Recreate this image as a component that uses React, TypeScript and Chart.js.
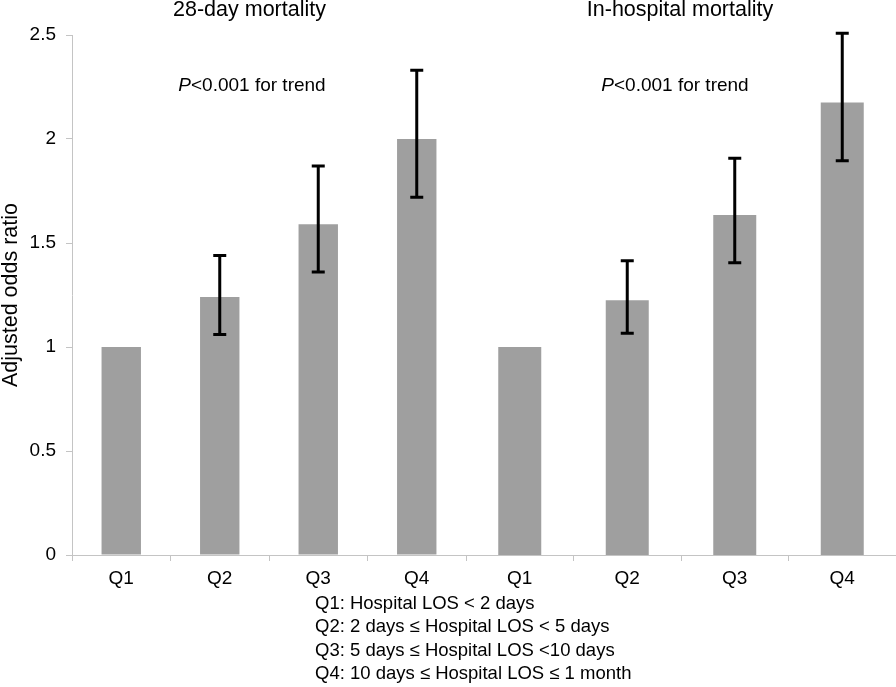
import React, { useEffect, useRef } from 'react';
import { Chart, registerables } from 'chart.js';

Chart.register(...registerables);

const FONT = '"Liberation Sans", Arial, sans-serif';

// ---- data ----
const categories = ['Q1', 'Q2', 'Q3', 'Q4'];
const mortality28Values = [1.0, 1.24, 1.59, 2.0];
const mortality28Low = [null, 1.06, 1.36, 1.72];
const mortality28High = [null, 1.44, 1.87, 2.33];
const inHospitalValues = [1.0, 1.225, 1.635, 2.175];
const inHospitalLow = [null, 1.066, 1.405, 1.896];
const inHospitalHigh = [null, 1.415, 1.907, 2.508];
const yMin = 0;
const yMax = 2.5;
const yStep = 0.5;
const yAxisTitle = 'Adjusted odds ratio';
const panelTitles = ['28-day mortality', 'In-hospital mortality'];
const trendItalic = 'P';
const trendRest = '<0.001 for trend';
const legendLines = [
  'Q1: Hospital LOS < 2 days',
  'Q2: 2 days ≤ Hospital LOS < 5 days',
  'Q3: 5 days ≤ Hospital LOS <10 days',
  'Q4: 10 days ≤ Hospital LOS ≤ 1 month',
];

const errorBarPlugin = {
  id: 'errorBars',
  afterDatasetsDraw(chart: any, _args: any, opts: any) {
    const meta = chart.getDatasetMeta(0);
    const yScale = chart.scales.y;
    const ctx = chart.ctx;
    ctx.save();
    ctx.strokeStyle = '#000';
    ctx.lineWidth = 3;
    ctx.lineCap = 'butt';
    meta.data.forEach((bar: any, i: number) => {
      const lo = opts.low[i];
      const hi = opts.high[i];
      if (lo == null || hi == null) return;
      const x = bar.x;
      const y1 = yScale.getPixelForValue(lo);
      const y2 = yScale.getPixelForValue(hi);
      const cap = 6.5;
      ctx.beginPath();
      ctx.moveTo(x, y1);
      ctx.lineTo(x, y2);
      ctx.moveTo(x - cap, y1);
      ctx.lineTo(x + cap, y1);
      ctx.moveTo(x - cap, y2);
      ctx.lineTo(x + cap, y2);
      ctx.stroke();
    });
    ctx.restore();
  },
};

const panelTextPlugin = {
  id: 'panelText',
  afterDraw(chart: any, _args: any, opts: any) {
    const ctx = chart.ctx;
    ctx.save();
    ctx.fillStyle = '#000';
    ctx.textBaseline = 'alphabetic';
    ctx.textAlign = 'center';
    ctx.font = `21.5px ${FONT}`;
    ctx.fillText(opts.title, opts.titleX, 16);
    // trend annotation, italic P
    ctx.textAlign = 'left';
    ctx.font = `italic 19px ${FONT}`;
    const wP = ctx.measureText(trendItalic).width;
    ctx.font = `19px ${FONT}`;
    const wR = ctx.measureText(trendRest).width;
    const start = opts.pX - (wP + wR) / 2;
    ctx.font = `italic 19px ${FONT}`;
    ctx.fillText(trendItalic, start, 91);
    ctx.font = `19px ${FONT}`;
    ctx.fillText(trendRest, start + wP, 91);
    ctx.restore();
  },
};

function makeConfig(values: number[], low: any[], high: any[], showY: boolean, title: string, titleX: number, pX: number): any {
  return {
    type: 'bar',
    data: {
      labels: categories,
      datasets: [
        {
          data: values,
          backgroundColor: '#9f9f9f',
          borderWidth: 0,
          barPercentage: 0.4,
          categoryPercentage: 1,
        },
      ],
    },
    options: {
      animation: false,
      responsive: false,
      devicePixelRatio: 1,
      layout: { padding: { top: 35, left: 0, right: 0, bottom: 0 } },
      plugins: {
        legend: { display: false },
        tooltip: { enabled: false },
        title: { display: false },
        errorBars: { low, high },
        panelText: { title, titleX, pX },
      },
      scales: {
        x: {
          grid: { offset: true, drawOnChartArea: false, tickLength: 6, color: '#c4c4c4' },
          border: { color: '#c4c4c4' },
          ticks: { color: '#000', font: { family: FONT, size: 19 }, padding: 6 },
          afterFit: (s: any) => {
            s.height = 45;
          },
        },
        y: {
          display: showY,
          min: yMin,
          max: yMax,
          ticks: {
            stepSize: yStep,
            color: '#000',
            font: { family: FONT, size: 19 },
            padding: 10,
            callback: (v: any) => String(Number(v)),
          },
          grid: { drawOnChartArea: false, tickLength: 6, color: '#c4c4c4' },
          border: { color: '#c4c4c4' },
          title: {
            display: showY,
            text: yAxisTitle,
            color: '#000',
            font: { family: FONT, size: 21.5, lineHeight: 1 },
            padding: 0,
          },
          afterFit: (s: any) => {
            if (showY) s.width = 72;
          },
        },
      },
    },
    plugins: [errorBarPlugin, panelTextPlugin],
  };
}

export default function App() {
  const leftRef = useRef<HTMLCanvasElement>(null);
  const rightRef = useRef<HTMLCanvasElement>(null);

  useEffect(() => {
    const left = new Chart(
      leftRef.current as HTMLCanvasElement,
      makeConfig(mortality28Values, mortality28Low, mortality28High, true, panelTitles[0], 249.5, 252)
    );
    const right = new Chart(
      rightRef.current as HTMLCanvasElement,
      makeConfig(inHospitalValues, inHospitalLow, inHospitalHigh, false, panelTitles[1], 680 - 466, 675 - 466)
    );
    return () => {
      left.destroy();
      right.destroy();
    };
  }, []);

  return (
    <div style={{ position: 'absolute', left: 0, top: 0, width: 896, height: 687, background: '#fff', overflow: 'hidden' }}>
      <canvas ref={leftRef} width={466} height={600} style={{ position: 'absolute', left: 0, top: 0, display: 'block' }} />
      <canvas ref={rightRef} width={430} height={600} style={{ position: 'absolute', left: 466, top: 0, display: 'block' }} />
      <div
        style={{
          position: 'absolute',
          left: 315,
          top: 591,
          fontFamily: FONT,
          fontSize: 18.5,
          lineHeight: '23.3px',
          color: '#000',
          whiteSpace: 'pre',
        }}
      >
        {legendLines.map((l, i) => (
          <div key={i}>{l}</div>
        ))}
      </div>
    </div>
  );
}
